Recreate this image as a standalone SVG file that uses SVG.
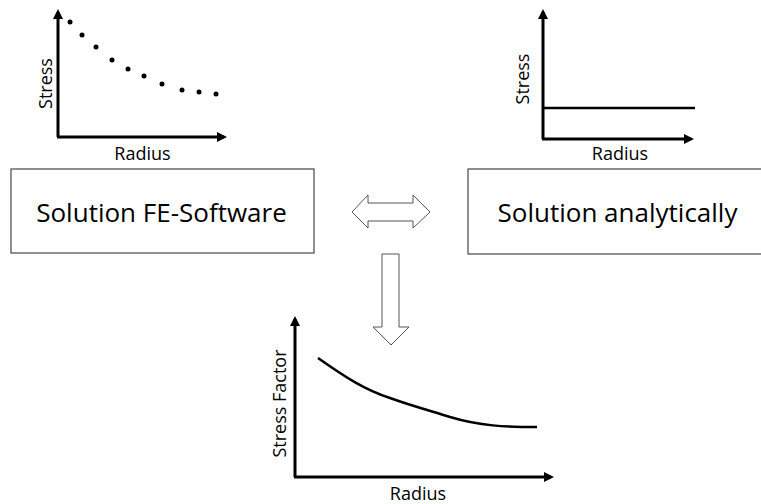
<svg xmlns="http://www.w3.org/2000/svg" width="761" height="504" viewBox="0 0 761 504">
<defs>
<style>
.ax{stroke:#000;stroke-width:3;fill:none}
.lbl{font-family:"Open Sans","Liberation Sans",sans-serif;font-size:18px;fill:#000}
.box{fill:#fff;stroke:#555;stroke-width:1.3}
.bt{font-family:"Open Sans","Liberation Sans",sans-serif;font-size:26px;fill:#000;text-anchor:middle}
.blk{fill:#fff;stroke:#555;stroke-width:1}
.cv{stroke:#000;stroke-width:2.5;fill:none}
</style>
<marker id="ah" markerWidth="10" markerHeight="10" refX="7" refY="5" orient="auto" markerUnits="userSpaceOnUse">
<path d="M0,0 L10,5 L0,10 Z" fill="#000"/>
</marker>
</defs>
<g id="chart-fe">
<path class="ax" d="M58,137 L58,12" marker-end="url(#ah)"/>
<path class="ax" d="M57,137 L224,137" marker-end="url(#ah)"/>
<g fill="#000">
<circle cx="70" cy="22" r="2.5"/><circle cx="82" cy="35" r="2.5"/><circle cx="96" cy="47" r="2.5"/>
<circle cx="112" cy="60" r="2.5"/><circle cx="128" cy="69" r="2.5"/><circle cx="144" cy="76" r="2.5"/>
<circle cx="162" cy="84" r="2.5"/><circle cx="182" cy="90" r="2.5"/><circle cx="199" cy="92" r="2.5"/>
<circle cx="216" cy="94" r="2.5"/>
</g>
<text class="lbl" text-anchor="middle" transform="translate(51.5,83.5) rotate(-90)">Stress</text>
<text class="lbl" text-anchor="middle" x="142.5" y="160">Radius</text>
</g>
<g id="chart-analytic">
<path class="ax" d="M543,139 L543,12" marker-end="url(#ah)"/>
<path class="ax" d="M542,139 L691,139" marker-end="url(#ah)"/>
<path d="M543,108 L695,108" stroke="#000" stroke-width="2.5"/>
<text class="lbl" text-anchor="middle" transform="translate(528.5,79) rotate(-90)">Stress</text>
<text class="lbl" text-anchor="middle" x="620" y="160">Radius</text>
</g>
<g id="box-fe">
<rect class="box" x="11" y="169" width="303" height="84"/>
<text class="bt" x="161.5" y="222">Solution FE-Software</text>
</g>
<g id="box-analytic">
<rect class="box" x="468" y="169" width="303" height="85"/>
<text class="bt" x="617.5" y="222">Solution analytically</text>
</g>
<g id="connectors">
<path class="blk" d="M352,212 L368,195 L368,203 L413,203 L413,195 L430,212 L413,228 L413,221 L368,221 L368,228 Z"/>
<path class="blk" d="M382,254 L399,254 L399,327 L409,327 L391,345 L373,327 L382,327 Z"/>
</g>
<g id="chart-factor">
<path class="ax" d="M295,477 L295,319" marker-end="url(#ah)"/>
<path class="ax" d="M294,477 L551,477" marker-end="url(#ah)"/>
<path class="cv" d="M318,358 C345,377 365,390 390,398 C415,407 435,412 450,417 C480,426 505,427 537,427"/>
<text class="lbl" text-anchor="middle" transform="translate(285.5,403.5) rotate(-90)">Stress Factor</text>
<text class="lbl" text-anchor="middle" x="418" y="500">Radius</text>
</g>
</svg>
